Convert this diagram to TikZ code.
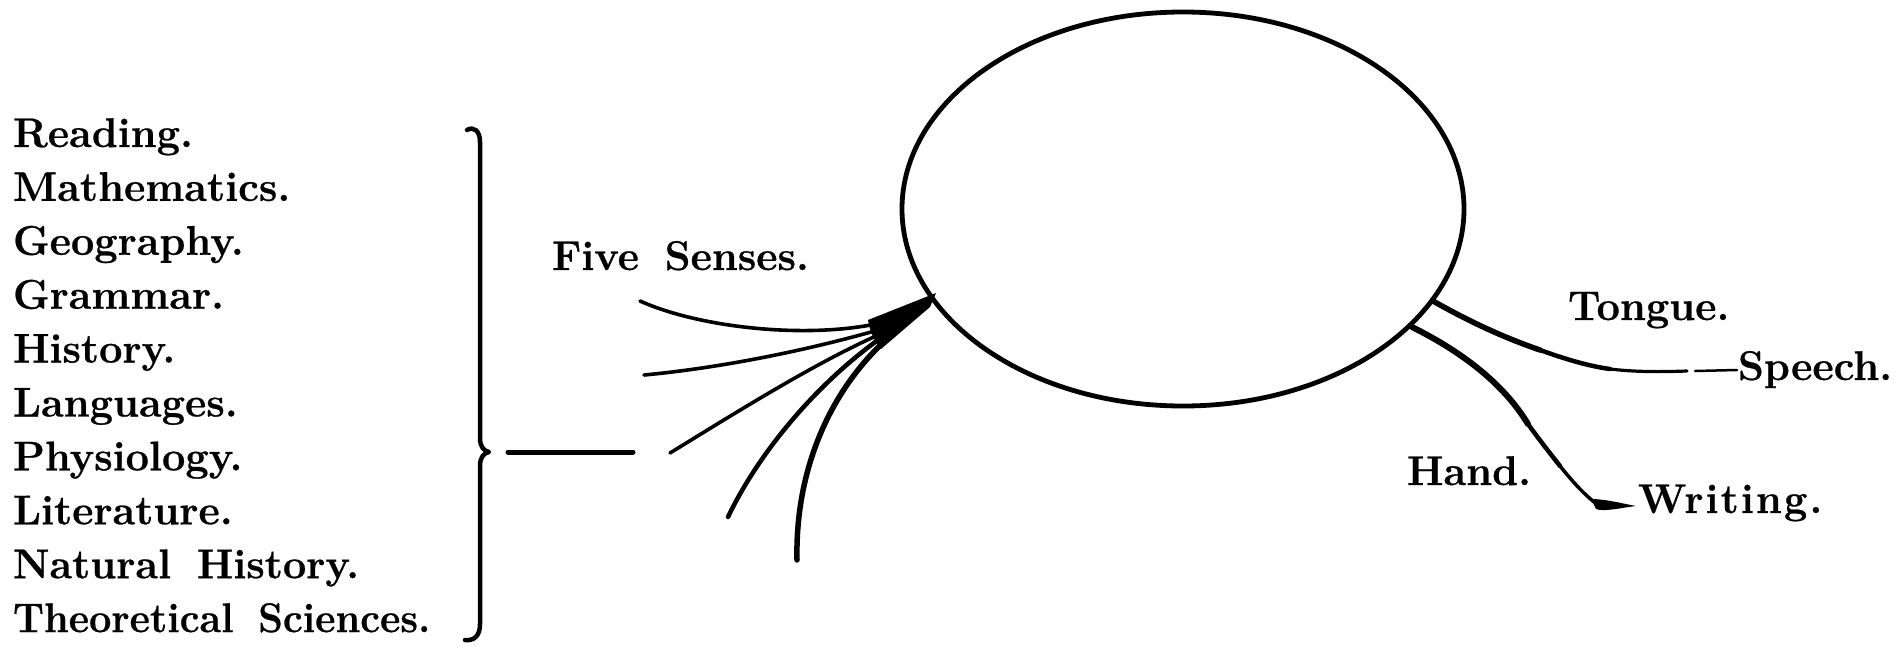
\documentclass[tikz,border=0pt]{standalone}
\usepackage{fontspec}
\setmainfont{Latin Modern Roman}[BoldFeatures={FakeBold=0.6}]
\usetikzlibrary{shapes.geometric}
\newcommand{\lblfont}{\fontsize{41.5}{48}\selectfont\bfseries\spaceskip=0.62em\relax}
\begin{document}
\begin{tikzpicture}[x=1pt,y=-1pt,
  lbl/.style={anchor=base west,inner sep=0pt,outer sep=0pt,font=\lblfont},
  ink/.style={draw=black,line width=4.5pt,line cap=round,line join=round},
  fibre/.style={draw=black,line width=3.6pt,line cap=round},
  lump/.style={fill=black}]
\useasboundingbox[fill=white] (0,0) rectangle (1898,654);

% left list
\node[lbl] (s0) at (13,147.0) {Reading.};
\node[lbl] (s1) at (13,200.9) {Mathematics.};
\node[lbl] (s2) at (13,254.8) {Geography.};
\node[lbl] (s3) at (13,308.7) {Grammar.};
\node[lbl] (s4) at (13,362.6) {History.};
\node[lbl] (s5) at (13,416.5) {Languages.};
\node[lbl] (s6) at (13,470.4) {Physiology.};
\node[lbl] (s7) at (13,524.3) {Literature.};
\node[lbl] (s8) at (13,578.2) {Natural History.};
\node[lbl] (s9) at (13,632.1) {\scalebox{0.955}[1]{Theoretical Sciences.}};

% brace
\coordinate (bt) at (467,130);
\coordinate (bm) at (489,452);
\coordinate (bb) at (465,640);
\draw[ink] (bt) .. controls (474,126) and (480,131) .. (480,142) -- (480,438)
  .. controls (480,447) and (484,451) .. (bm)
  .. controls (484,453) and (480,457) .. (480,466) -- (480,624)
  .. controls (480,636) and (474,641) .. (bb);
\coordinate (ha) at (508,452);
\coordinate (hb) at (633,452);
\draw[ink,line width=5pt] (ha) -- (hb);

% mind
\node[draw=black,line width=4.8pt,ellipse,minimum width=562pt,minimum height=394pt,inner sep=0pt] (mind) at (1183,209) {};

% five senses
\node[lbl] (five) at (552,270) {Five Senses.};
\coordinate (J) at (936,293);
\coordinate (f1) at (640,301);
\coordinate (f2) at (644,375);
\coordinate (f3) at (670,453);
\coordinate (f4) at (728,517);
\coordinate (f5) at (797,560);
\fill[lump] (J) -- (868,320) .. controls (870,332) and (875,343) .. (881,349) -- (930,307) -- cycle;
\draw[fibre] (f1) .. controls (700,328) and (810,340) .. (885,322);
\draw[fibre] (f2) .. controls (720,368) and (810,350) .. (885,328);
\draw[fibre] (f3) .. controls (740,410) and (820,360) .. (885,332);
\draw[fibre,line width=4.5pt] (f4) .. controls (760,450) and (820,380) .. (885,335);
\draw[fibre,line width=5.5pt] (f5) .. controls (795,470) and (830,390) .. (888,338);

% tongue / speech
\node[lbl] (tongue) at (1568,320) {Tongue.};
\node[lbl] (speech) at (1738,380) {Speech.};
\coordinate (t0) at (1433,301);
\coordinate (ta) at (1540,350);
\coordinate (tm) at (1610,369);
\coordinate (t1) at (1687,371);
\coordinate (d0) at (1695,371);
\coordinate (d1) at (1737,370);
\draw[ink,line width=5.5pt] (t0) .. controls (1470,322) and (1505,338) .. (ta);
\draw[ink,line width=4.5pt] (ta) .. controls (1565,359) and (1588,366) .. (tm);
\draw[ink,line width=3.2pt] (tm) .. controls (1635,372) and (1660,372) .. (t1);
\draw[fibre,line width=2.5pt] (d0) -- (d1);

% hand / writing
\node[lbl] (hand) at (1407,485) {Hand.};
\node[lbl] (writing) at (1638,513) {\addfontfeature{LetterSpace=5}Writing.};
\coordinate (h0) at (1412,327);
\coordinate (hm) at (1528,424);
\coordinate (hn) at (1560,466);
\coordinate (h1) at (1594,502);
\coordinate (nib) at (1636,506);
\draw[ink,line width=6pt] (h0) .. controls (1462,352) and (1503,383) .. (hm);
\draw[ink,line width=4.5pt] (hm) .. controls (1538,438) and (1549,452) .. (hn);
\draw[ink,line width=3.5pt] (hn) .. controls (1572,481) and (1583,493) .. (h1);
\fill[lump] (1591,499) .. controls (1605,499) and (1620,503) .. (nib)
  .. controls (1620,508) and (1604,512) .. (1596,509) -- cycle;
\end{tikzpicture}
\end{document}
